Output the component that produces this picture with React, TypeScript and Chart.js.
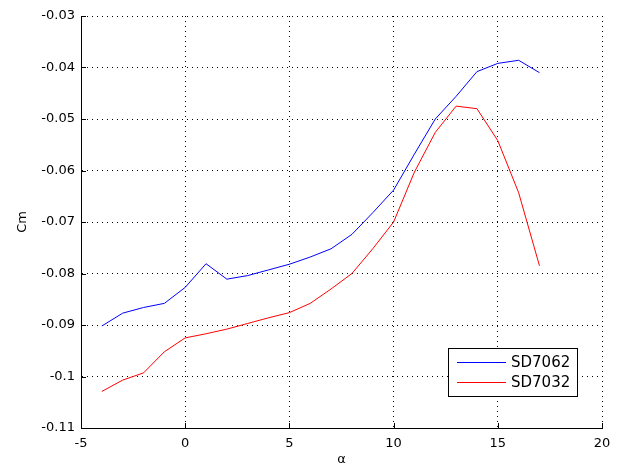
import React, { useEffect, useRef } from "react";
import { Chart, registerables } from "chart.js";

Chart.register(...registerables);

const alpha = [-4, -3, -2, -1, 0, 1, 2, 3, 4, 5, 6, 7, 8, 9, 10, 11, 12, 13, 14, 15, 16, 17];
const sd7062 = [-0.0902, -0.0877, -0.0866, -0.0858, -0.0827, -0.0781, -0.0811, -0.0804, -0.0793, -0.0782, -0.0768, -0.0752, -0.0724, -0.0682, -0.0638, -0.0568, -0.0500, -0.0456, -0.0408, -0.0392, -0.0386, -0.0410];
const sd7032 = [-0.1029, -0.1007, -0.0993, -0.0952, -0.0925, -0.0917, -0.0908, -0.0897, -0.0886, -0.0876, -0.0858, -0.0830, -0.0800, -0.0752, -0.0700, -0.0603, -0.0526, -0.0475, -0.0480, -0.0542, -0.0643, -0.0785];
const seriesNames = ["SD7062", "SD7032"];
const seriesColors = ["#0000ff", "#ff0000"];
const xTitle = "α";
const yTitle = "Cm";

const FONT = "'DejaVu Sans', sans-serif";

const innerTicks = {
  id: "innerTicks",
  afterDraw(chart: any) {
    const { ctx, chartArea, scales } = chart;
    ctx.save();
    ctx.strokeStyle = "#000";
    ctx.lineWidth = 1;
    ctx.beginPath();
    scales.x.ticks.forEach((t: any) => {
      const px = Math.round(scales.x.getPixelForValue(t.value)) + 0.5;
      ctx.moveTo(px, chartArea.bottom);
      ctx.lineTo(px, chartArea.bottom - 5);
    });
    scales.y.ticks.forEach((t: any) => {
      const py = Math.round(scales.y.getPixelForValue(t.value)) + 0.5;
      ctx.moveTo(chartArea.left, py);
      ctx.lineTo(chartArea.left + 5, py);
    });
    ctx.stroke();
    ctx.restore();
  },
};

const boxLegend = {
  id: "boxLegend",
  afterDraw(chart: any) {
    const { ctx } = chart;
    const x0 = 448, y0 = 348, w = 129, h = 48;
    ctx.save();
    ctx.fillStyle = "#fff";
    ctx.fillRect(x0, y0, w, h);
    ctx.strokeStyle = "#000";
    ctx.lineWidth = 1;
    ctx.strokeRect(x0 + 0.5, y0 + 0.5, w, h);
    ctx.font = "15px " + FONT;
    ctx.textBaseline = "middle";
    chart.data.datasets.forEach((ds: any, i: number) => {
      const y = y0 + 14.5 + i * 20;
      ctx.strokeStyle = ds.borderColor;
      ctx.beginPath();
      ctx.moveTo(x0 + 9, y);
      ctx.lineTo(x0 + 58, y);
      ctx.stroke();
      ctx.fillStyle = "#000";
      ctx.fillText(ds.label, x0 + 63, y + 1);
    });
    ctx.restore();
  },
};

export default function App() {
  const ref = useRef<HTMLCanvasElement>(null);
  useEffect(() => {
    document.body.style.margin = "0";
    const chart = new Chart(ref.current!, {
      type: "line",
      data: {
        labels: alpha,
        datasets: [
          {
            label: seriesNames[0],
            data: alpha.map((a, i) => ({ x: a, y: sd7062[i] })),
            borderColor: seriesColors[0],
            borderWidth: 1,
            pointRadius: 0,
            tension: 0,
          },
          {
            label: seriesNames[1],
            data: alpha.map((a, i) => ({ x: a, y: sd7032[i] })),
            borderColor: seriesColors[1],
            borderWidth: 1,
            pointRadius: 0,
            tension: 0,
          },
        ],
      },
      options: {
        responsive: false,
        animation: false,
        layout: { padding: { top: 16, right: 17, left: 0, bottom: 0 } },
        plugins: { legend: { display: false }, tooltip: { enabled: false } },
        scales: {
          x: {
            type: "linear",
            min: -5,
            max: 20,
            afterFit: (s: any) => { s.height = 41; },
            ticks: { stepSize: 5, color: "#000", padding: 8, font: { family: FONT, size: 13 }, maxRotation: 0 },
            grid: { color: "#000", lineWidth: 1, drawTicks: false },
            border: { display: true, color: "#000", width: 1, dash: [1, 4] },
            title: { display: true, text: xTitle, color: "#000", font: { family: FONT, size: 13 }, padding: { top: 0, bottom: 2 } },
          },
          y: {
            type: "linear",
            min: -0.11,
            max: -0.03,
            afterFit: (s: any) => { s.width = 81; },
            ticks: {
              stepSize: 0.01,
              color: "#000",
              padding: 6,
              font: { family: FONT, size: 13 },
              callback: (v: any) => String(Number(Number(v).toFixed(2))),
            },
            grid: { color: "#000", lineWidth: 1, drawTicks: false },
            border: { display: true, color: "#000", width: 1, dash: [1, 4] },
            title: { display: true, text: yTitle, color: "#000", font: { family: FONT, size: 13 }, padding: { top: 15, bottom: 0 } },
          },
        },
      },
      plugins: [innerTicks, boxLegend],
    });
    return () => chart.destroy();
  }, []);
  return <canvas ref={ref} width={619} height={469} style={{ display: "block" }} />;
}
